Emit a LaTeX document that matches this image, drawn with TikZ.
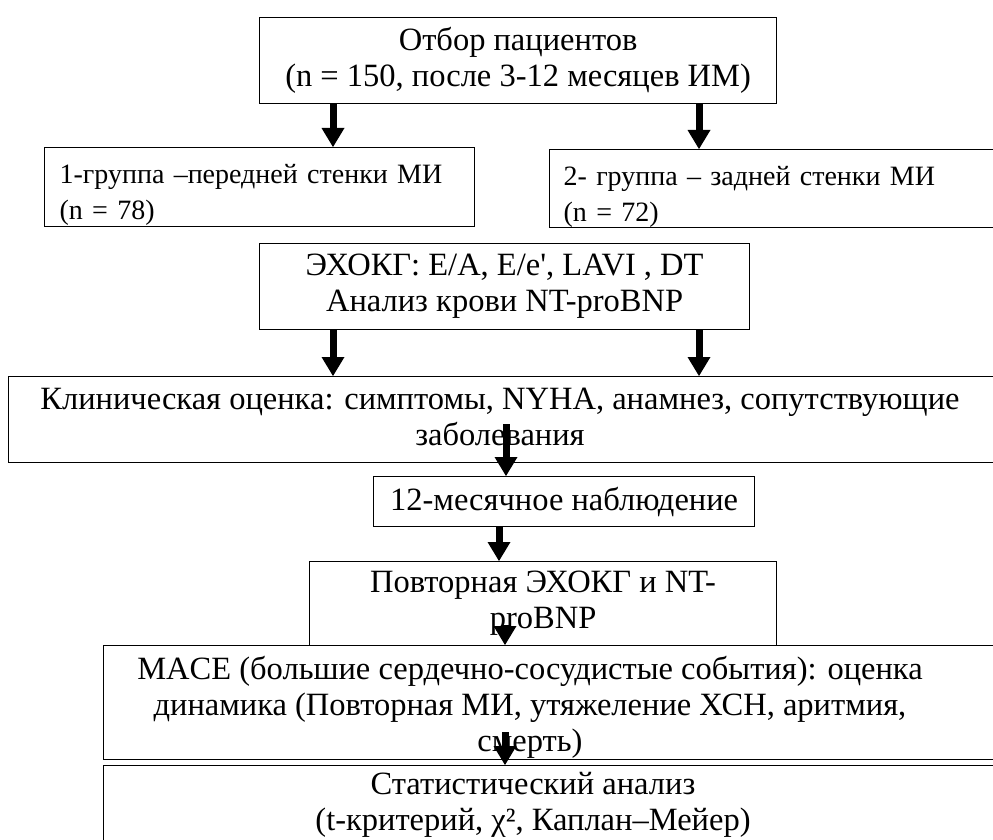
\documentclass[tikz,border=0pt]{standalone}
\usepackage{fontspec}
\setmainfont{Liberation Serif}
\usetikzlibrary{arrows.meta}

\begin{document}
\begin{tikzpicture}[x=1pt, y=-1pt,
	box/.style = {draw, line width=1.2pt, inner sep=0pt, anchor=north west, font=\fontsize{32.5}{36}\selectfont, align=center},
	grp/.style = {box, inner xsep=15pt, font=\fontsize{28}{36}\selectfont, align=left},
	txt/.style = {inner sep=0pt, font=\fontsize{32.5}{36}\selectfont, align=center},
	arr/.style = {line width=7pt, -{Triangle[length=19pt, width=23pt, line width=0pt]}}]
	\useasboundingbox (0,0) rectangle (993,840);
	\clip (0,0) rectangle (993,840);
	% boxes
	\node[box, minimum width=517pt, minimum height=86pt] (sel) at (259,17) {Отбор пациентов\\(n = 150, после 3-12 месяцев ИМ)};
	\node[grp, minimum width=430pt, minimum height=79pt, text width=400pt] (grp1) at (44,147) {\rule{0pt}{35pt}1-группа –передней стенки МИ\\(n = 78)};
	\node[grp, minimum width=461pt, minimum height=78pt, inner xsep=14pt, text width=433pt] (grp2) at (549,149) {\rule{0pt}{35pt}2- группа – задней стенки МИ\\(n = 72)};
	\node[box, minimum width=490pt, minimum height=86pt] (echo) at (259,243) {ЭХОКГ: E/A, E/e\textquotesingle, LAVI , DT\\Анализ крови NT-proBNP};
	\node[box, minimum width=1002pt, minimum height=86pt] (clin) at (8,376) {};
	\node[txt] (clintext) at (500,417) {Клиническая оценка: симптомы, NYHA, анамнез, сопутствующие\\заболевания};
	\node[box, minimum width=381pt, minimum height=50pt] (obs) at (373,476) {12-месячное наблюдение};
	\node[box, minimum width=467pt, minimum height=84pt] (rep) at (309,561) {Повторная ЭХОКГ и NT-\\proBNP};
	\node[box, minimum width=907pt, minimum height=114pt] (mace) at (103,645) {};
	\node[txt] (macetext) at (530,707) {MACE (большие сердечно-сосудистые события): оценка\\динамика (Повторная МИ, утяжеление ХСН, аритмия,\\смерть)};
	\node[box, minimum width=907pt, minimum height=95pt] (stat) at (103,765) {};
	\node[txt] (stattext) at (533,805) {Статистический анализ\\(t-критерий, χ², Каплан–Мейер)};
	% arrows
	\coordinate (cl) at (333,0);
	\coordinate (cr) at (699,0);
	\coordinate (cm) at (499,0);
	\coordinate (s1) at (506,424);
	\coordinate (s2) at (505,625);
	\coordinate (s3) at (505,732);
	\draw[arr] (sel.south -| cl) -- (grp1.north -| cl);
	\draw[arr] (sel.south -| cr) -- (grp2.north -| cr);
	\draw[arr] (echo.south -| cl) -- (clin.north -| cl);
	\draw[arr] (echo.south -| cr) -- (clin.north -| cr);
	\draw[arr] (s1) -- (obs.north -| s1);
	\draw[arr] (obs.south -| cm) -- (rep.north -| cm);
	\draw[arr] (s2) -- (mace.north -| s2);
	\draw[arr] (s3) -- (stat.north -| s3);
\end{tikzpicture}
\end{document}
